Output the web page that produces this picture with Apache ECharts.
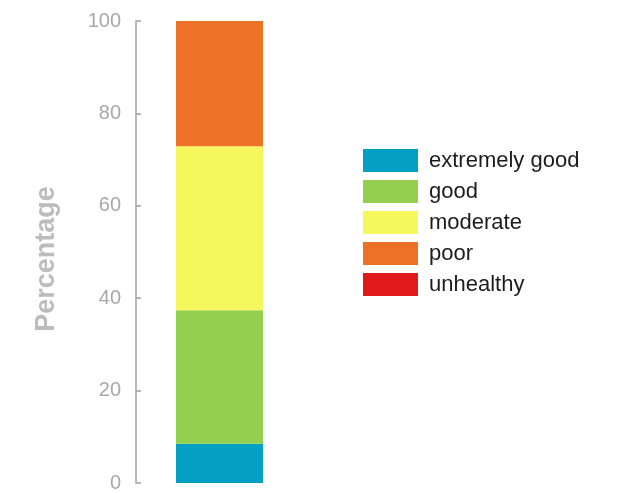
<!DOCTYPE html>
<html>
<head>
<meta charset="utf-8">
<script src="https://cdn.jsdelivr.net/npm/echarts@6/dist/echarts.min.js"></script>
<style>
  html, body { margin: 0; padding: 0; background: #fff; }
  #chart { width: 618px; height: 493px; }
</style>
</head>
<body>
<div id="chart"></div>
<script>
// data
var categories = ["air quality"];
var levels = ["extremely good", "good", "moderate", "poor", "unhealthy"];
var levelColors = ["#03a0c4", "#95cf50", "#f5f85c", "#ee7128", "#e01a18"];
var extremelyGood = [8.5];
var good = [28.9];
var moderate = [35.5];
var poor = [27.1];
var unhealthy = [0];
var yTicks = [0, 20, 40, 60, 80, 100];

var values = [extremelyGood, good, moderate, poor, unhealthy];

var chart = echarts.init(document.getElementById("chart"));

var series = levels.map(function(name, i) {
	return {
		name: name,
		type: "bar",
		stack: "total",
		barWidth: 87,
		data: values[i],
		itemStyle: { color: levelColors[i] }
	};
});

chart.setOption({
	animation: false,
	textStyle: { fontFamily: "Liberation Sans, Arial, sans-serif" },
	grid: { left: 136, top: 21, right: 315, bottom: 7 },
	legend: {
		orient: "vertical",
		left: 363,
		top: 149,
		padding: 0,
		icon: "rect",
		itemWidth: 55,
		itemHeight: 23,
		itemGap: 8,
		data: levels,
		textStyle: { fontSize: 22, color: "#1c1c1c", padding: [0, 0, 0, 6] }
	},
	xAxis: {
		type: "category",
		data: categories,
		show: false
	},
	yAxis: {
		type: "value",
		min: yTicks[0],
		max: yTicks[yTicks.length - 1],
		interval: 20,
		name: "Percentage",
		nameLocation: "middle",
		nameGap: 76,
		nameTextStyle: { fontSize: 27, fontWeight: "bold", color: "#bcbcbc", padding: [0, 14, 0, 0] },
		axisLine: { show: true, lineStyle: { color: "#a0a0a0", width: 1.5 } },
		axisTick: { show: true, inside: true, length: 5, lineStyle: { color: "#a0a0a0", width: 1.5 } },
		axisLabel: { fontSize: 20, color: "#a8a8a8", margin: 15 },
		splitLine: { show: false }
	},
	series: series
});
</script>
</body>
</html>
